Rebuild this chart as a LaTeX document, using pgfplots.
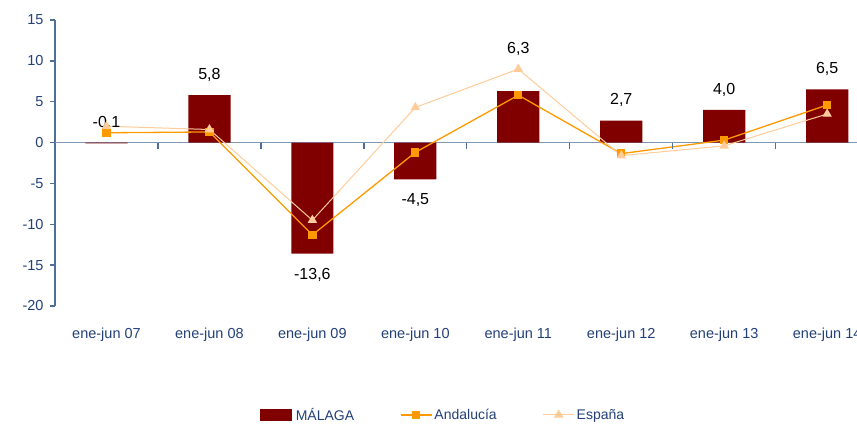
\documentclass[border=0pt]{standalone}
\usepackage{fontspec}
\setmainfont{Liberation Sans}
\usepackage{pgfplots}
\usepackage{pgfplotstable}
\pgfplotsset{compat=1.18}

\definecolor{malaga}{HTML}{800000}
\definecolor{andal}{HTML}{FF9900}
\definecolor{espana}{HTML}{FFCC99}
\definecolor{txtblue}{HTML}{23407A}
\definecolor{axblue}{HTML}{7F98B8}
\definecolor{tickblue}{HTML}{4F6F98}

% Malaga bars: value, label, label shift (pt)
\pgfplotstableread{
x y lab off
0 -0.1 {-0,1} 20
1 5.8 {5,8} 20
2 -13.6 {-13,6} -21
3 -4.5 {-4,5} -20.5
4 6.3 {6,3} 42
5 2.7 {2,7} 21
6 4.0 {4,0} 20
7 6.5 {6,5} 21
}\tblmalaga

\begin{document}
\begin{tikzpicture}
\begin{axis}[
  scale only axis, width=802pt, height=286pt,
  xmin=-0.5, xmax=7.29, ymin=-20, ymax=15,
  axis y line*=left, axis x line*=bottom,
  x axis line style={draw=none},
  y axis line style={tickblue, line width=1.2pt, -},
  ytick={-20,-15,...,15},
  yticklabels={-20,-15,-10,-5,0,5,10,15},
  major tick length=0pt,
  xtick={0,...,7},
  xticklabels={ene-jun 07,ene-jun 08,ene-jun 09,ene-jun 10,ene-jun 11,ene-jun 12,ene-jun 13,ene-jun 14},
  xtick style={draw=none},
  xticklabel style={anchor=center, yshift=-29pt, font=\fontsize{14.5}{16}\selectfont, text=txtblue},
  yticklabel style={font=\fontsize{14.5}{16}\selectfont, text=txtblue, xshift=-8pt},
  clip=false,
  legend columns=3,
  legend style={at={(axis description cs:0.4838,-0.381)}, anchor=center, draw=none,
    font=\fontsize{14}{16}\selectfont, text=txtblue,
    /tikz/every even column/.append style={column sep=44pt}},
]
% zero line
\draw[axblue, line width=1.2pt] (axis cs:-0.5,0) -- (axis cs:7.29,0);

\addplot[ybar, bar width=0.41, fill=malaga, draw=none,
  nodes near coords, nodes near coords align=center,
  point meta=explicit symbolic,
  visualization depends on={\thisrow{off} \as \off},
  nodes near coords style={yshift=\off pt, font=\fontsize{16}{18}\selectfont, text=black},
  legend image code/.code={\fill[malaga] (0pt,-6pt) rectangle (32pt,6pt);}]
  table[x=x, y=y, meta=lab] {\tblmalaga};
\addlegendentry{\hspace{2pt}MÁLAGA}

\addplot[andal, line width=1.3pt, mark=square*, mark size=3.5pt, mark options={solid, fill=andal},
  legend image code/.code={\draw[andal, line width=1.3pt] (0pt,0pt) -- (31pt,0pt);
    \fill[andal] (15.5pt,0pt) +(-3.5pt,-3.5pt) rectangle +(3.5pt,3.5pt);}]
  coordinates {(0,1.2) (1,1.3) (2,-11.3) (3,-1.2) (4,5.8) (5,-1.35) (6,0.3) (7,4.6)};
\addlegendentry{Andalucía}

\addplot[espana, line width=1pt, mark=triangle*, mark size=4.5pt, mark options={solid, fill=espana},
  legend image code/.code={\draw[espana, line width=1pt] (0pt,0pt) -- (31pt,0pt);
    \fill[espana] (15.5pt,4.5pt) -- (11.6pt,-2.25pt) -- (19.4pt,-2.25pt) -- cycle;}]
  coordinates {(0,2.0) (1,1.6) (2,-9.5) (3,4.3) (4,9.0) (5,-1.6) (6,-0.4) (7,3.5)};
\addlegendentry{España}
\end{axis}
% tick marks: axis box is 802pt x 286pt at the origin
% category separators on the zero line (y=0 -> 163.43pt), value ticks on the left
\foreach \i in {1,...,7}
  \draw[tickblue, line width=1.3pt] (\i*102.953pt,163.43pt) -- ++(0pt,-6pt);
\foreach \j in {0,...,7}
  \draw[tickblue, line width=1.3pt] (0pt,\j*40.857pt) -- ++(-5pt,0pt);
\pgfresetboundingbox
\useasboundingbox (-55pt,-118pt) rectangle (802pt,306pt);
\end{tikzpicture}
\end{document}
